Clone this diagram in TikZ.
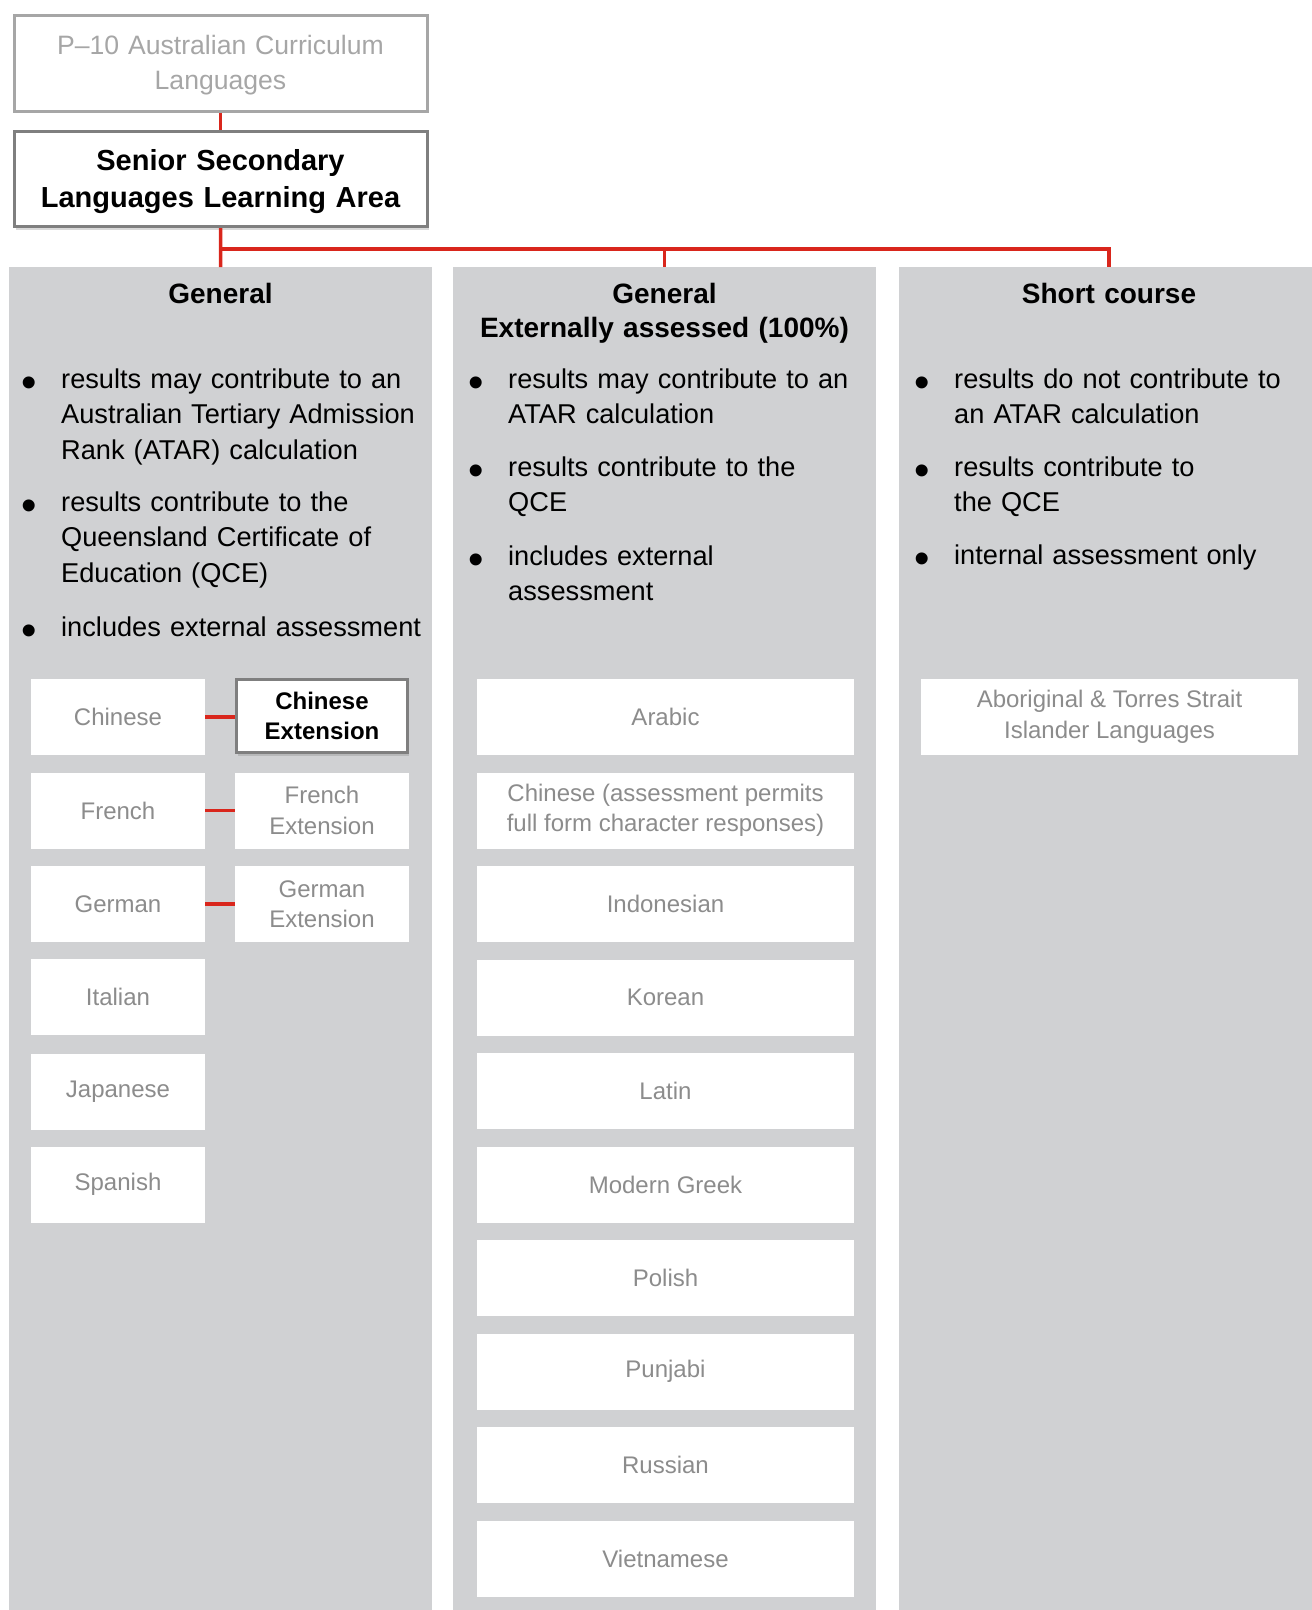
\documentclass[tikz,border=0pt]{standalone}
\usepackage{fontspec}
\setmainfont{Liberation Sans}
\usepackage{tikz}
\usetikzlibrary{positioning,shadows}
\definecolor{lred}{HTML}{D9261C}
\definecolor{panel}{HTML}{D0D1D3}
\definecolor{faint}{HTML}{A6A6A6}
\definecolor{boxtxt}{HTML}{8C8C8C}
\definecolor{framegrey}{HTML}{7F7F7F}
\newcommand{\blt}{\leavevmode\llap{\makebox[40pt][l]{\raisebox{-9.5pt}[0pt][0pt]{\fontsize{44}{44}\selectfont\textbullet}}}}
\tikzset{
  panelbox/.style={fill=panel,inner sep=0pt,anchor=north west},
  headtxt/.style={font=\bfseries\fontsize{28}{34.5}\selectfont,text width=420pt,align=center,anchor=base,inner sep=0pt},
  itemtxt/.style={font=\fontsize{27.2}{35.5}\selectfont,text width=370pt,align=left,anchor=base west,inner sep=0pt},
  langbox/.style={fill=white,text=boxtxt,font=\fontsize{24}{30.5}\selectfont,align=center,inner sep=0pt,minimum height=76pt},
  shortbox/.style={langbox,minimum width=174pt},
  widebox/.style={langbox,minimum width=377pt},
  lift/.style={drop shadow={opacity=.3,shadow xshift=1.5pt,shadow yshift=-3.5pt}},
  redlink/.style={draw=lred,line width=3.5pt},
}

\begin{document}
\begin{tikzpicture}[x=1pt,y=-1pt]
\useasboundingbox (0,0) rectangle (1312,1610);
% top of the tree
\node[draw=faint,line width=3pt,text=faint,minimum width=413pt,minimum height=96pt,text width=400pt,text height=24pt,align=center,font=\fontsize{26.6}{35}\selectfont] (p10) at (220.5,63) {P--10 Australian Curriculum\\Languages};
\node[draw=framegrey,line width=3pt,fill=white,lift,minimum width=413pt,minimum height=95pt,text width=400pt,text height=26pt,align=center,font=\bfseries\fontsize{29}{37}\selectfont] (senior) at (220.5,179) {Senior Secondary\\Languages Learning Area};
% the three panels
\node[panelbox,minimum width=423pt,minimum height=1343pt] (colGen) at (9,267) {};
\node[panelbox,minimum width=423pt,minimum height=1343pt] (colExt) at (453,267) {};
\node[panelbox,minimum width=413pt,minimum height=1343pt] (colShort) at (899,267) {};
\coordinate (split) at (220.5,249);
\draw[redlink] (p10) -- (senior);
\draw[redlink] (senior) -- (colGen);
\draw[redlink] (split) -| (colExt.north);
\draw[redlink] (split) -| ([xshift=3.5pt]colShort.north);
\node[headtxt] (hGen) at (220.5,303) {General};
\node[headtxt] (hExt) at (664.5,303) {General\\Externally assessed (100\%)};
\node[headtxt] (hShort) at (1109,303) {Short course};
% bullet points
\node[itemtxt] (g1) at (61,388) {\blt results may contribute to an\\Australian Tertiary Admission\\Rank (ATAR) calculation};
\node[itemtxt] (g2) at (61,511) {\blt results contribute to the\\Queensland Certificate of\\Education (QCE)};
\node[itemtxt] (g3) at (61,636) {\blt includes external assessment};
\node[itemtxt] (e1) at (508,388) {\blt results may contribute to an\\ATAR calculation};
\node[itemtxt] (e2) at (508,476) {\blt results contribute to the\\QCE};
\node[itemtxt] (e3) at (508,565) {\blt includes external\\assessment};
\node[itemtxt] (s1) at (954,388) {\blt results do not contribute to\\an ATAR calculation};
\node[itemtxt] (s2) at (954,476) {\blt results contribute to\\the QCE};
\node[itemtxt] (s3) at (954,564) {\blt internal assessment only};
% General subjects
\node[shortbox] (chi) at (118,717) {Chinese};
\node[shortbox,text=black,font=\bfseries\fontsize{24}{30.5}\selectfont,draw=framegrey,line width=3pt,lift,minimum width=171pt,minimum height=73pt] (chiExt) at (322,716) {Chinese\\Extension};
\node[shortbox] (fre) at (118,810.5) {French};
\node[shortbox] (freExt) at (322,810.5) {French\\Extension};
\node[shortbox] (ger) at (118,904) {German};
\node[shortbox] (gerExt) at (322,904) {German\\Extension};
\node[shortbox] (ita) at (118,996.5) {Italian};
\node[shortbox] (jap) at (118,1091.5) {Japanese};
\node[shortbox] (spa) at (118,1184.5) {Spanish};
\draw[redlink] (chi) -- (chi -| chiExt.west);
\draw[redlink] (fre) -- (freExt);
\draw[redlink] (ger) -- (gerExt);
% externally assessed subjects
\node[widebox] (ara) at (665.5,717) {Arabic};
\node[widebox] (chiFull) at (665.5,810.5) {Chinese (assessment permits\\full form character responses)};
\node[widebox] (ind) at (665.5,904) {Indonesian};
\node[widebox] (kor) at (665.5,997.5) {Korean};
\node[widebox] (lat) at (665.5,1091) {Latin};
\node[widebox] (gre) at (665.5,1184.5) {Modern Greek};
\node[widebox] (pol) at (665.5,1278) {Polish};
\node[widebox] (pun) at (665.5,1371.5) {Punjabi};
\node[widebox] (rus) at (665.5,1465) {Russian};
\node[widebox] (vie) at (665.5,1558.5) {Vietnamese};
% short course
\node[widebox] (abo) at (1109.5,717) {Aboriginal \& Torres Strait\\Islander Languages};
\end{tikzpicture}
\end{document}
